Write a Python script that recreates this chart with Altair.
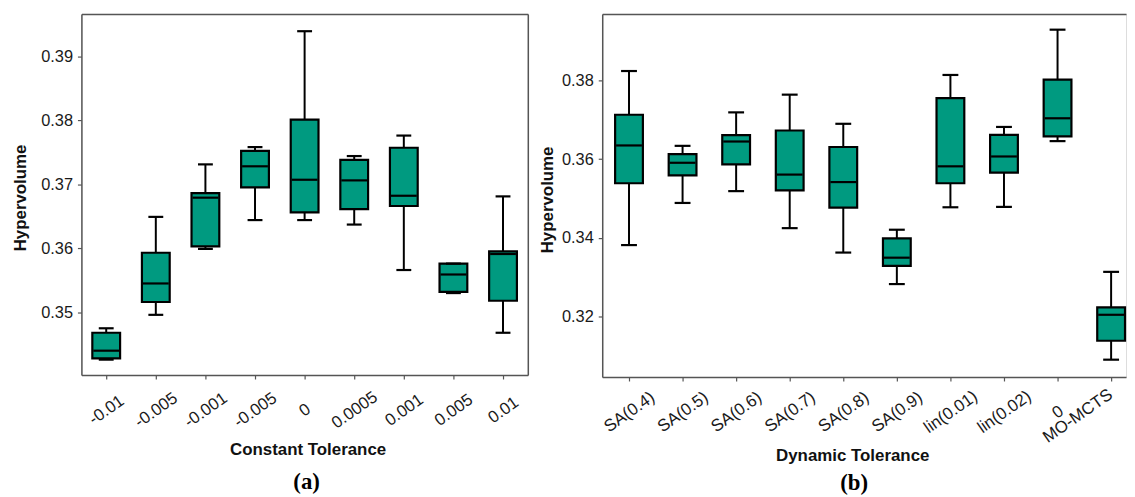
import json
import altair as alt
import pandas as pd

# ---------------- data: panel (a) Constant Tolerance ----------------
cat_a = ["-0.01", "-0.005", "-0.001", "-0.005", "0", "0.0005", "0.001", "0.005", "0.01"]
lower_a = [0.3426, 0.3496, 0.3599, 0.3644, 0.3644, 0.3637, 0.3566, 0.3530, 0.3468]
q1_a = [0.3428, 0.3516, 0.3603, 0.3695, 0.3656, 0.3661, 0.3666, 0.3532, 0.3518]
med_a = [0.3440, 0.3545, 0.3679, 0.3728, 0.3707, 0.3706, 0.3682, 0.3559, 0.3591]
q3_a = [0.3468, 0.3593, 0.3686, 0.3752, 0.3801, 0.3738, 0.3757, 0.3576, 0.3595]
upper_a = [0.3475, 0.3649, 0.3731, 0.3758, 0.3939, 0.3744, 0.3776, 0.3576, 0.3681]
yticks_a = [0.35, 0.36, 0.37, 0.38, 0.39]

# ---------------- data: panel (b) Dynamic Tolerance ----------------
cat_b = ["SA(0.4)", "SA(0.5)", "SA(0.6)", "SA(0.7)", "SA(0.8)", "SA(0.9)",
         "lin(0.01)", "lin(0.02)", "0", "MO-MCTS"]
lower_b = [0.3382, 0.3489, 0.3519, 0.3425, 0.3363, 0.3283, 0.3478, 0.3479, 0.3646, 0.3091]
q1_b = [0.3539, 0.3559, 0.3587, 0.3521, 0.3477, 0.3329, 0.3539, 0.3566, 0.3658, 0.3139]
med_b = [0.3635, 0.3591, 0.3645, 0.3561, 0.3542, 0.3350, 0.3582, 0.3607, 0.3704, 0.3205]
q3_b = [0.3713, 0.3613, 0.3661, 0.3673, 0.3631, 0.3399, 0.3755, 0.3662, 0.3802, 0.3224]
upper_b = [0.3824, 0.3634, 0.3719, 0.3764, 0.3690, 0.3421, 0.3814, 0.3682, 0.3929, 0.3314]
yticks_b = [0.32, 0.34, 0.36, 0.38]

FILL = "#009a80"
SANS = "Liberation Sans"
SERIF = "Liberation Serif"
FRAME = "#555555"


def panel(cats, lower, q1, med, q3, upper, xdom, ydom, yvals, width, height,
          xtitle, xt_x, xt_y, yt_x, yt_y, box_w, cap_w, label, label_dx,
          label_offset, right_frame, shift_last):
    n = len(cats)
    df = pd.DataFrame({"idx": list(range(n)), "cat": cats, "lower": lower,
                       "q1": q1, "med": med, "q3": q3, "upper": upper})
    xs = alt.Scale(domain=xdom, nice=False, zero=False, padding=0)
    ys = alt.Scale(domain=ydom, nice=False, zero=False, padding=0)

    xkw = dict(
        values=list(range(n)), labelExpr=json.dumps(cats) + "[datum.value]",
        labelAngle=325, labelAlign="center", labelBaseline="middle",
        labelPadding=31, labelOverlap=False, labelFlush=False,
        labelFont=SANS, labelFontSize=17, labelColor="#1a1a1a",
        tickSize=4, tickColor=FRAME, tickWidth=1.2,
        domainColor=FRAME, domainWidth=1.5, grid=False,
        title=xtitle, titleX=xt_x, titleY=xt_y, titleAlign="center",
        titleBaseline="middle", titleFont=SANS, titleFontSize=17,
        titleFontWeight="bold", titleColor="#111111",
    )
    if shift_last:
        xkw["labelOffset"] = alt.condition(f"datum.value == {n - 1}", alt.value(-34), alt.value(0))
        xkw["labelPadding"] = alt.condition(f"datum.value == {n - 1}", alt.value(35), alt.value(31))
    x_axis = alt.Axis(**xkw)
    y_axis = alt.Axis(
        values=yvals, format=".2f", labelFont=SANS, labelFontSize=16.5,
        labelColor="#1a1a1a", labelPadding=5, tickSize=4, tickColor=FRAME,
        tickWidth=1.2, domainColor=FRAME, domainWidth=1.5, grid=False,
        title="Hypervolume", titleX=yt_x, titleY=yt_y, titleAngle=270,
        titleAlign="center", titleBaseline="middle", titleFont=SANS,
        titleFontSize=17, titleFontWeight="bold", titleColor="#111111",
    )
    top_axis = alt.Axis(orient="top", labels=False, ticks=False, title=None,
                        domainColor=FRAME, domainWidth=1.5, grid=False,
                        minExtent=0, maxExtent=0)
    right_axis = alt.Axis(orient="right", labels=False, ticks=False, title=None,
                          domainColor=FRAME, domainWidth=1.5, grid=False,
                          minExtent=0, maxExtent=0)

    base = alt.Chart(df)
    whisk_lo = base.mark_rule(color="black", strokeWidth=2).encode(
        x=alt.X("idx:Q", scale=xs, axis=x_axis),
        y=alt.Y("lower:Q", scale=ys, axis=y_axis),
        y2="q1:Q",
    )
    whisk_hi = base.mark_rule(color="black", strokeWidth=2).encode(
        x=alt.X("idx:Q", scale=xs, axis=top_axis),
        y=alt.Y("q3:Q", scale=ys, axis=right_axis if right_frame else None),
        y2="upper:Q",
    )
    box = base.mark_bar(size=box_w, fill=FILL, stroke="black", strokeWidth=2.2,
                        opacity=1).encode(
        x=alt.X("idx:Q", scale=xs, axis=None),
        y=alt.Y("q1:Q", scale=ys, axis=None),
        y2="q3:Q",
    )
    median = base.mark_tick(orient="horizontal", size=box_w - 2, thickness=2.2,
                            color="black", opacity=1).encode(
        x=alt.X("idx:Q", scale=xs, axis=None),
        y=alt.Y("med:Q", scale=ys, axis=None),
    )
    cap_lo = base.mark_tick(orient="horizontal", size=cap_w, thickness=2.2,
                            color="black", opacity=1).encode(
        x=alt.X("idx:Q", scale=xs, axis=None),
        y=alt.Y("lower:Q", scale=ys, axis=None),
    )
    cap_hi = base.mark_tick(orient="horizontal", size=cap_w, thickness=2.2,
                            color="black", opacity=1).encode(
        x=alt.X("idx:Q", scale=xs, axis=None),
        y=alt.Y("upper:Q", scale=ys, axis=None),
    )
    return alt.layer(whisk_lo, whisk_hi, box, median, cap_lo, cap_hi).resolve_axis(
        x="independent", y="independent"
    ).properties(
        width=width, height=height,
        title=alt.TitleParams(text=label, orient="bottom", anchor="middle",
                              font=SERIF, fontSize=23, fontWeight="bold",
                              color="black", offset=label_offset, dx=label_dx),
    )


pa = panel(cat_a, lower_a, q1_a, med_a, q3_a, upper_a,
           xdom=[-0.5, 8.5], ydom=[0.3402, 0.3966], yvals=yticks_a,
           width=450, height=364, xtitle="Constant Tolerance",
           xt_x=228, xt_y=75, yt_x=-61, yt_y=185, box_w=28, cap_w=15,
           label="(a)", label_dx=2, label_offset=14, right_frame=True,
           shift_last=False)

pb = panel(cat_b, lower_b, q1_b, med_b, q3_b, upper_b,
           xdom=[-0.5, 9.278], ydom=[0.3047, 0.3969], yvals=yticks_b,
           width=528, height=366, xtitle="Dynamic Tolerance",
           xt_x=252, xt_y=79, yt_x=-55, yt_y=187, box_w=28, cap_w=16,
           label="(b)", label_dx=-10, label_offset=9, right_frame=False,
           shift_last=True)

chart = alt.hconcat(pa, pb, spacing=9).properties(
    padding={"left": 3, "top": 3, "right": 0, "bottom": 0}
).configure_view(stroke=None).configure(font=SANS)

chart.save("out.html", embed_options={"renderer": "svg", "actions": False})
